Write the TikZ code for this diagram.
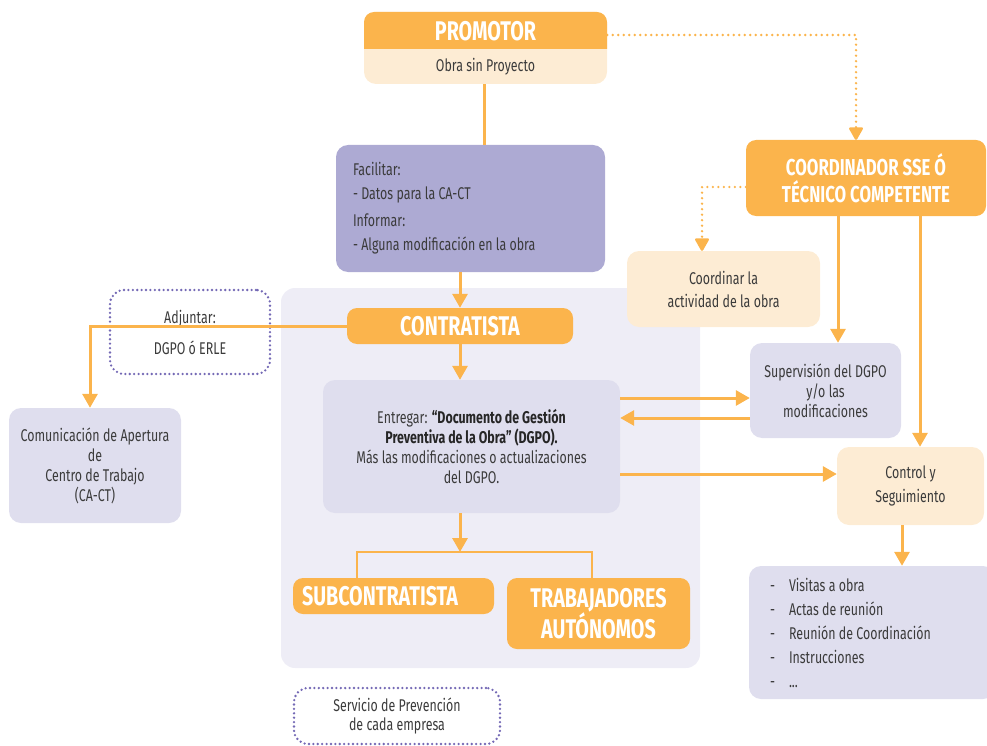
\documentclass[tikz,border=0pt]{standalone}
\usepackage{fontspec}
\setmainfont{Fira Sans}[FakeStretch=0.73]
\usetikzlibrary{arrows.meta}

\definecolor{orangeC}{HTML}{FBB44C}
\definecolor{creamC}{HTML}{FDECD4}
\definecolor{purpleC}{HTML}{ADAAD3}
\definecolor{lilacC}{HTML}{DFDEEE}
\definecolor{panelC}{HTML}{EEEDF6}
\definecolor{dotC}{HTML}{7469B5}
\definecolor{textC}{HTML}{3B3B3B}

\tikzset{
  box/.style={rounded corners=12pt, inner sep=0pt, align=center, text=textC,
    font=\fontsize{17}{20}\selectfont,
    execute at begin node={\spaceskip=0pt\xspaceskip=0pt\relax}},
  lilacbox/.style={box, fill=lilacC},
  creambox/.style={box, fill=creamC},
  orangebox/.style={box, fill=orangeC, rounded corners=10pt, text=white,
    font=\fontsize{27}{27}\selectfont\bfseries},
  dotbox/.style={box, draw=dotC, line width=2.6pt, dash pattern=on 0pt off 4.4pt,
    line cap=round, rounded corners=14pt},
  link/.style={draw=orangeC, line width=3pt},
  arr/.style={link, -{Triangle[length=14pt,width=15pt]}},
  dotarr/.style={draw=orangeC, line width=2.6pt, dash pattern=on 0pt off 5.5pt,
    line cap=round, -{Triangle[length=14pt,width=15pt,round=false]}},
}

\begin{document}
\begin{tikzpicture}[x=1pt,y=-1pt]
  \useasboundingbox (0,0) rectangle (987,746);

  % panel of the contractor
  \fill[panelC, rounded corners=14pt] (281,288) rectangle (700,668);

  % Promotor
  \node[creambox, minimum width=243pt, minimum height=72pt] (prom) at (485.5,48) {};
  \fill[orangeC] (364,49) [rounded corners=10pt] -- (364,12) -- (607,12) [sharp corners] -- (607,49) -- cycle;
  \node[text=white, font=\fontsize{27}{27}\selectfont\bfseries] (promtitle) at (485.5,31) {PROMOTOR};
  \node[text=textC, font=\fontsize{17}{20}\selectfont] (promsub) at (485.5,67) {Obra sin Proyecto};

  % Text Node
  \node[box, fill=purpleC, minimum width=269pt, minimum height=127pt, align=left,
    text width=235pt, inner xsep=17pt] (fac) at (470.5,208.5)
    {Facilitar:\\[4pt]- Datos para la CA-CT\\[7pt]Informar:\\[4pt]- Alguna modificación en la obra};

  \node[orangebox, minimum width=226pt, minimum height=36pt] (contr) at (460,326) {CONTRATISTA};

  \node[dotbox, minimum width=160pt, minimum height=84pt] (adj) at (190,332)
    {Adjuntar:\\[11pt]DGPO ó ERLE};

  \node[lilacbox, minimum width=172pt, minimum height=115pt] (com) at (95,465.5)
    {Comunicación de Apertura\\de\\Centro de Trabajo\\(CA-CT)};

  \node[lilacbox, minimum width=297pt, minimum height=133pt] (dgpo) at (471.5,446.5)
    {Entregar: {\color{black!85}\bfseries “Documento de Gestión}\\
     {\color{black!85}\bfseries Preventiva de la Obra” (DGPO).}\\
     Más las modificaciones o actualizaciones\\del DGPO.};

  \node[orangebox, minimum width=240pt, minimum height=76pt,
    font=\fontsize{23}{27}\selectfont\bfseries] (coordbox) at (866,178)
    {COORDINADOR SSE Ó\\TÉCNICO COMPETENTE};

  \node[creambox, minimum width=193pt, minimum height=76pt] (coordin) at (723.5,289)
    {Coordinar la\\[3pt]actividad de la obra};

  \node[lilacbox, minimum width=151pt, minimum height=95pt] (sup) at (825.5,390.5)
    {Supervisión del DGPO\\y/o las\\modificaciones};

  \node[creambox, minimum width=147pt, minimum height=78pt] (ctrl) at (910.5,486)
    {Control y\\[4pt]Seguimiento};

  \node[lilacbox, minimum width=246pt, minimum height=133pt, align=left,
    text width=204pt, inner xsep=21pt, font=\fontsize{17}{24}\selectfont] (list) at (872,632.5)
    {\makebox[19pt][l]{-}Visitas a obra\\
     \makebox[19pt][l]{-}Actas de reunión\\
     \makebox[19pt][l]{-}Reunión de Coordinación\\
     \makebox[19pt][l]{-}Instrucciones\\
     \makebox[19pt][l]{-}...};

  \node[orangebox, minimum width=201pt, minimum height=36pt, align=left,
    text width=183pt, inner xsep=9pt] (sub) at (393.5,596) {SUBCONTRATISTA};
  \node[orangebox, minimum width=183pt, minimum height=71pt] (trab) at (598.5,613.5)
    {TRABAJADORES\\AUTÓNOMOS};

  \node[dotbox, minimum width=206pt, minimum height=56pt, font=\fontsize{17}{19.5}\selectfont] (serv) at (397,716)
    {Servicio de Prevención\\de cada empresa};

  %Straight Lines
  \draw[link] ([xshift=-1.5pt]prom.south) -- ([xshift=-1.5pt]prom.south |- fac.north);
  \draw[arr] (contr.north |- fac.south) -- (contr.north);
  \draw[arr] (contr.west) -| ([xshift=-5pt]com.north);
  \draw[arr] (contr.south) -- (contr.south |- dgpo.north);
  \draw[arr] ([yshift=48.5pt]dgpo.east) -- ([yshift=-7.5pt]sup.west);
  \draw[arr] ([yshift=-27.5pt]sup.west) -- ([yshift=28.5pt]dgpo.east);
  \draw[arr] ([yshift=-27.5pt]dgpo.east) -- ([yshift=12pt]ctrl.west);
  \draw[arr] ([xshift=-28pt]coordbox.south) -- ([xshift=-28pt]coordbox.south |- sup.north);
  \draw[arr] ([xshift=54pt]coordbox.south) -- ([xshift=54pt]coordbox.south |- ctrl.north);
  \draw[arr] ([xshift=-8.5pt]ctrl.south) -- ([xshift=-8.5pt]ctrl.south |- list.north);

  % dotted links
  \draw[dotarr] ([yshift=13pt]prom.east) -| ([xshift=-10pt]coordbox.north);
  \draw[dotarr] ([yshift=-9pt]coordbox.west) -| ([xshift=-21.5pt]coordin.north);

  % branch to the subcontractors
  \coordinate (split) at (dgpo.south |- 0,552);
  \draw[arr] ([xshift=-11.5pt]dgpo.south) -- ([xshift=-11.5pt]split);
  \draw[link, line width=2.5pt] ([xshift=-36.5pt]sub.north) |- ([xshift=-6.5pt]trab.north |- split) -- ([xshift=-6.5pt]trab.north);
\end{tikzpicture}
\end{document}
